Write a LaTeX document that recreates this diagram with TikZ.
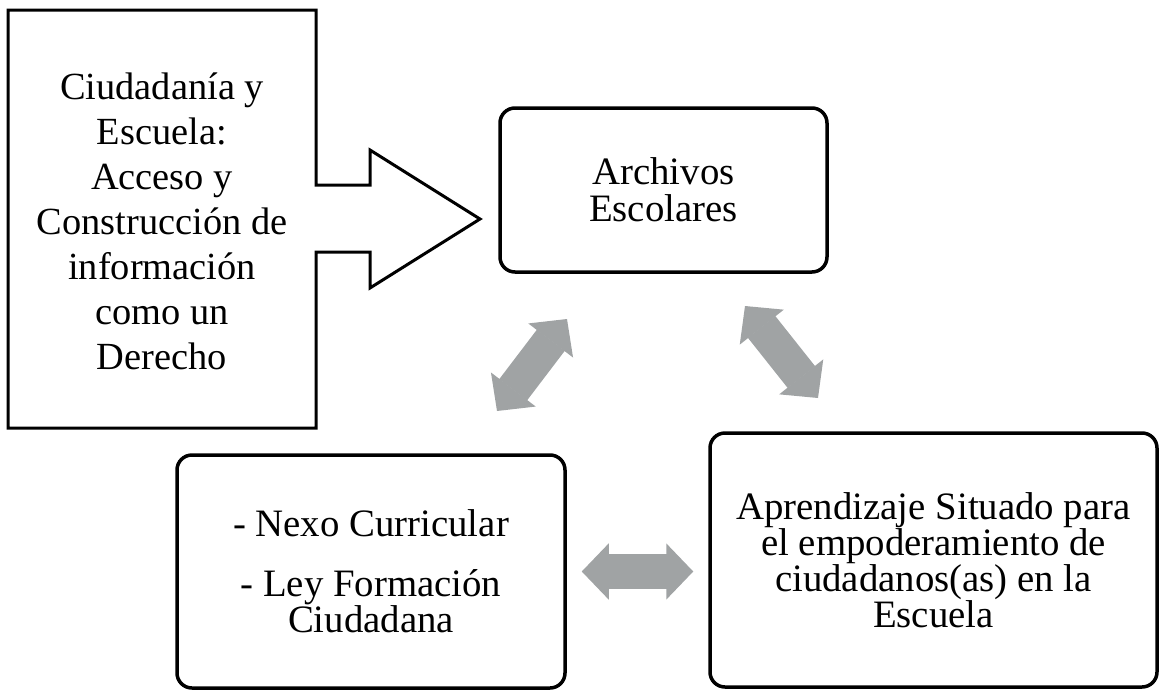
\documentclass[tikz,border=0pt]{standalone}
\usepackage{fontspec}
\setmainfont{Liberation Serif}
\usetikzlibrary{arrows.meta, calc}
\definecolor{arrowgray}{RGB}{160,163,164}

\begin{document}
\begin{tikzpicture}[x=1pt, y=-1pt,
  box/.style={draw, line width=3.5pt, rounded corners=15pt, align=center, inner sep=0pt, font=\fontsize{38.8}{35}\selectfont},
  dbl/.style={arrowgray, line width=35pt, {Triangle[length=27pt,width=56pt,line width=1.5pt]}-{Triangle[length=27pt,width=56pt,line width=1.5pt]}}]
\useasboundingbox (0,0) rectangle (1160,694);
% callout with the big arrow
\draw[line width=3pt] (8,10) -- (316,10) -- (316,185) -- (370,185) -- (370,150) -- (480,219)
  -- (370,288) -- (370,252) -- (316,252) -- (316,428) -- (8,428) -- cycle;
\node[align=center, font=\fontsize{38.4}{45}\selectfont] (ciud) at (162,221) {Ciudadan\'ia y\\Escuela:\\Acceso y\\Construcci\'on de\\informaci\'on\\como un\\Derecho};
% boxes
\node[box, minimum width=327pt, minimum height=164pt, font=\fontsize{38.8}{37}\selectfont] (arch) at (663.5,190) {Archivos\\Escolares};
\node[box, minimum width=388pt, minimum height=233pt] (nexo) at (371,571.5) {- Nexo Curricular\\[25pt]- Ley Formaci\'on\\Ciudadana};
\node[box, minimum width=447pt, minimum height=254pt] (aprend) at (933.5,560) {Aprendizaje Situado para\\el empoderamiento de\\ciudadanos(as) en la\\Escuela};
% gray arrows
\coordinate (l1) at (497,411);
\coordinate (l2) at (567,319);
\coordinate (r1) at (745,306);
\coordinate (r2) at (818,398);
\draw[dbl] (l1) -- (l2);
\draw[dbl] (r1) -- (r2);
\draw[dbl] ($(nexo.east)+(15,0)$) -- ($(aprend.west |- nexo.east)+(-15,0)$);
\end{tikzpicture}
\end{document}
